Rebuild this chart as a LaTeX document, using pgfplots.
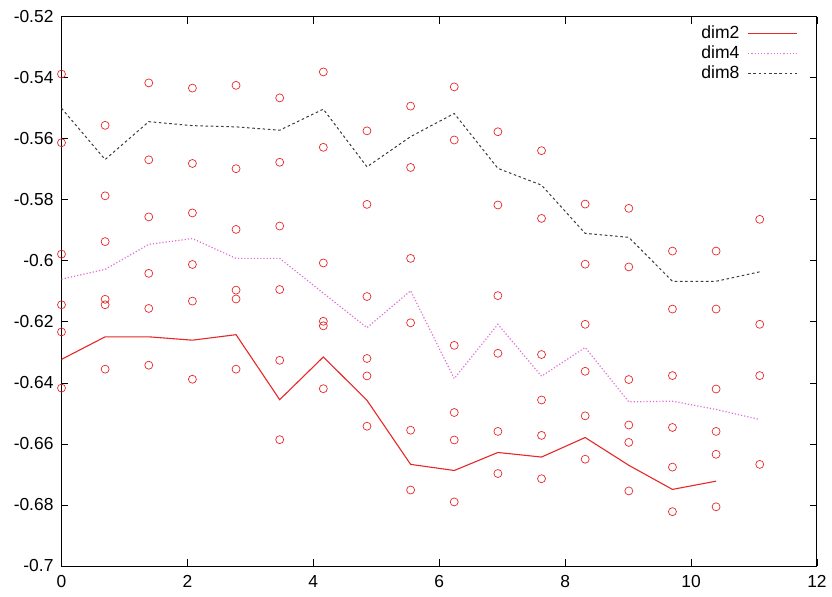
\documentclass[border=0pt]{standalone}
\usepackage{fontspec}
\setmainfont{Liberation Sans}
\usepackage{pgfplots}
\pgfplotsset{compat=1.18}
\usepackage{pgfplotstable}
\definecolor{gpred}{RGB}{230,40,40}
\definecolor{gppink}{RGB}{225,110,215}
\definecolor{gpgray}{RGB}{60,60,60}
\pgfplotstableread{
x y
0 -0.5388
0 -0.5613
0 -0.5978
0 -0.6144
0 -0.6233
0 -0.6417
0.6931 -0.5556
0.6931 -0.5787
0.6931 -0.5937
0.6931 -0.6126
0.6931 -0.6144
0.6931 -0.6355
1.3863 -0.5417
1.3863 -0.5669
1.3863 -0.5856
1.3863 -0.6041
1.3863 -0.6156
1.3863 -0.6342
2.0794 -0.5434
2.0794 -0.5681
2.0794 -0.5843
2.0794 -0.6012
2.0794 -0.6132
2.0794 -0.6388
2.7726 -0.5425
2.7726 -0.5698
2.7726 -0.5897
2.7726 -0.6096
2.7726 -0.6125
2.7726 -0.6355
3.4657 -0.5466
3.4657 -0.5677
3.4657 -0.5886
3.4657 -0.6094
3.4657 -0.6326
3.4657 -0.6586
4.1589 -0.5381
4.1589 -0.5628
4.1589 -0.6007
4.1589 -0.6198
4.1589 -0.6213
4.1589 -0.6419
4.8520 -0.5574
4.8520 -0.5815
4.8520 -0.6117
4.8520 -0.6320
4.8520 -0.6377
4.8520 -0.6542
5.5452 -0.5493
5.5452 -0.5694
5.5452 -0.5992
5.5452 -0.6203
5.5452 -0.6555
5.5452 -0.6751
6.2383 -0.5430
6.2383 -0.5604
6.2383 -0.6277
6.2383 -0.6497
6.2383 -0.6587
6.2383 -0.6790
6.9315 -0.5577
6.9315 -0.5817
6.9315 -0.6114
6.9315 -0.6303
6.9315 -0.6559
6.9315 -0.6697
7.6246 -0.5639
7.6246 -0.5861
7.6246 -0.6307
7.6246 -0.6456
7.6246 -0.6572
7.6246 -0.6714
8.3178 -0.5814
8.3178 -0.6011
8.3178 -0.6208
8.3178 -0.6362
8.3178 -0.6508
8.3178 -0.6650
9.0109 -0.5828
9.0109 -0.6020
9.0109 -0.6389
9.0109 -0.6538
9.0109 -0.6595
9.0109 -0.6754
9.7041 -0.5968
9.7041 -0.6158
9.7041 -0.6376
9.7041 -0.6546
9.7041 -0.6676
9.7041 -0.6822
10.3972 -0.5968
10.3972 -0.6158
10.3972 -0.6420
10.3972 -0.6559
10.3972 -0.6634
10.3972 -0.6806
11.0904 -0.5864
11.0904 -0.6208
11.0904 -0.6376
11.0904 -0.6667
}\pts
\pgfplotstableread{
x y
0 -0.6323
0.6931 -0.6249
1.3863 -0.6249
2.0794 -0.6260
2.7726 -0.6242
3.4657 -0.6455
4.1589 -0.6315
4.8520 -0.6457
5.5452 -0.6667
6.2383 -0.6687
6.9315 -0.6628
7.6246 -0.6643
8.3178 -0.6579
9.0109 -0.6670
9.7041 -0.6749
10.3972 -0.6722
}\dimtwo
\pgfplotstableread{
x y
0 -0.6060
0.6931 -0.6028
1.3863 -0.5946
2.0794 -0.5927
2.7726 -0.5992
3.4657 -0.5992
4.1589 -0.6106
4.8520 -0.6219
5.5452 -0.6098
6.2383 -0.6386
6.9315 -0.6208
7.6246 -0.6378
8.3178 -0.6284
9.0109 -0.6462
9.7041 -0.6460
10.3972 -0.6487
11.0904 -0.6520
}\dimfour
\pgfplotstableread{
x y
0 -0.5500
0.6931 -0.5668
1.3863 -0.5544
2.0794 -0.5557
2.7726 -0.5561
3.4657 -0.5572
4.1589 -0.5503
4.8520 -0.5692
5.5452 -0.5593
6.2383 -0.5517
6.9315 -0.5697
7.6246 -0.5752
8.3178 -0.5910
9.0109 -0.5923
9.7041 -0.6067
10.3972 -0.6067
11.0904 -0.6036
}\dimeight
\begin{document}
\begin{tikzpicture}
\useasboundingbox (-30.75pt,-15pt) rectangle (385.25pt,283pt);
\begin{axis}[
  at={(0,0)}, anchor=south west,
  scale only axis,
  width=377.75pt, height=274.65pt,
  xmin=0, xmax=12, ymin=-0.7, ymax=-0.52,
  xtick={0,2,...,12},
  ytick={-0.7,-0.68,...,-0.519},
  tick align=inside,
  major tick length=3.5pt,
  axis line style={line width=0.5pt},
  every tick/.style={black, line width=0.4pt},
  /pgf/number format/assume math mode=true,
  /pgf/number format/fixed,
  /pgf/number format/precision=2,
  tick label style={font=\fontsize{8.7}{10}\selectfont},
  yticklabel style={xshift=-0.5pt},
  xticklabel style={yshift=-1pt},
  legend plot pos=right,
  legend cell align=right,
  legend style={draw=none, fill=none, at={(0.975,0.9847)}, anchor=north east,
    font=\fontsize{8.8}{9}\selectfont, inner sep=0pt, row sep=2.1pt,
    nodes={inner sep=0pt},
    /tikz/every odd column/.style={column sep=4pt}},
]
\addplot[only marks, mark=o, mark size=2pt, mark options={gpred, line width=0.35pt}, forget plot] table {\pts};
\addplot[color=gpred, line width=0.55pt,
  legend image code/.code={\draw[draw=gpred, line width=0.6pt] (0pt,0pt) -- (24.5pt,0pt);}] table {\dimtwo};
\addlegendentry{dim2}
\addplot[color=gppink, line width=0.6pt, densely dotted,
  legend image code/.code={\draw[draw=gppink, line width=0.6pt, densely dotted] (0pt,0pt) -- (24.5pt,0pt);}] table {\dimfour};
\addlegendentry{dim4}
\addplot[color=gpgray, line width=0.5pt, dash pattern=on 1.3pt off 1.3pt,
  legend image code/.code={\draw[draw=gpgray, line width=0.5pt, dash pattern=on 1.3pt off 1.3pt] (0pt,0pt) -- (24.5pt,0pt);}] table {\dimeight};
\addlegendentry{dim8}
\end{axis}
\end{tikzpicture}
\end{document}
